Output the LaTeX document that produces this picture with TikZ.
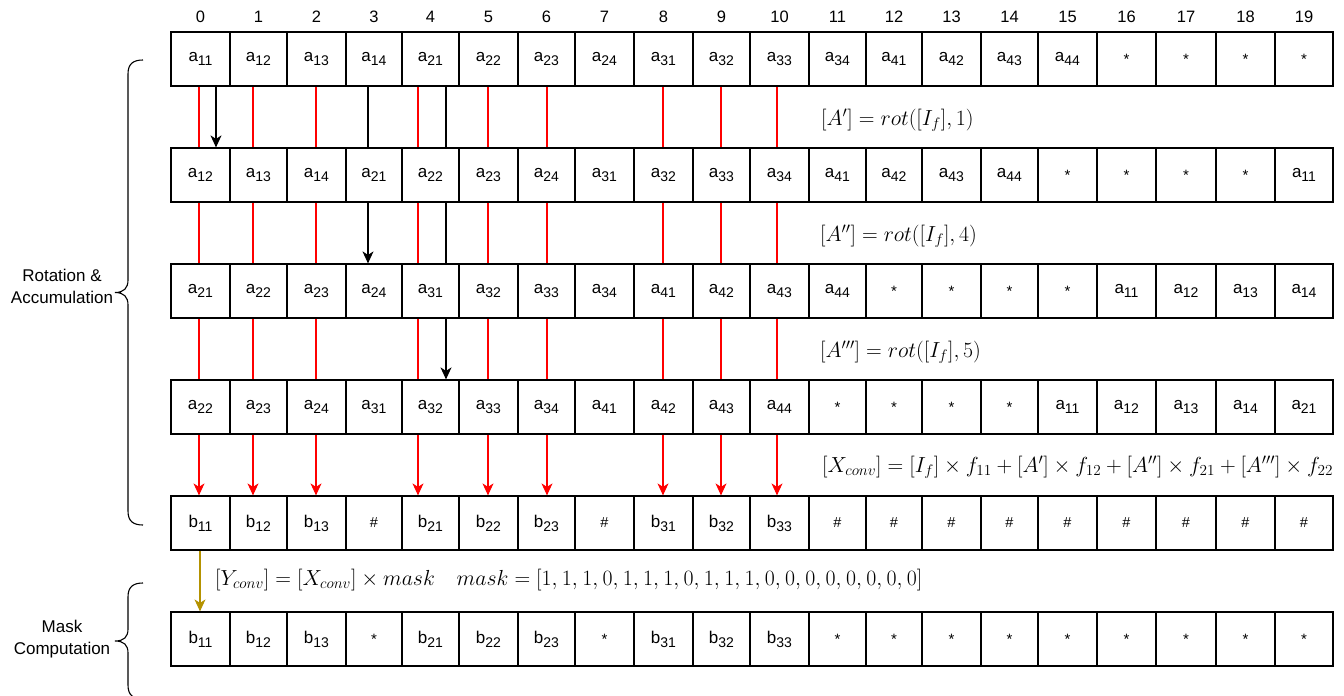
\RequirePackage{fix-cm}
\documentclass[tikz,border=0pt]{standalone}
\usepackage{fontspec}
\newfontfamily\arialf{Liberation Sans}
\usetikzlibrary{arrows.meta}
\definecolor{gold}{RGB}{180,146,0}
\pgfdeclarelayer{bgfill}
\pgfdeclarelayer{background}
\pgfsetlayers{bgfill,background,main}
\newcommand\A[1]{a\raisebox{-4pt}{\fontsize{14}{14}\selectfont #1}}
\newcommand\B[1]{b\raisebox{-4pt}{\fontsize{14}{14}\selectfont #1}}
\newcommand\Sx{\raisebox{-1pt}{\fontsize{15}{15}\selectfont *}}
\newcommand\Hx{{\fontsize{14.5}{14.5}\selectfont \#}}
\newcommand\cmm{,\mkern0.6mu}
\def\bnds{{171,230,287,346,402,459,518,575,634,693,750,809,866,922,981,1038,1097,1156,1216,1275,1333}}
\newcommand\rowcells[3]{%
  \foreach \t [count=\i from 0] in {#3}{%
    \pgfmathsetmacro\xl{\bnds[\i]}%
    \pgfmathsetmacro\xr{\bnds[\i+1]}%
    \pgfmathsetmacro\w{\xr-\xl}%
    \node[cell, minimum width=\w pt] (r#1c\i) at ({(\xl+\xr)/2},{#2+27}) {\t};}}
\begin{document}
\begin{tikzpicture}[x=1pt,y=-1pt,
  cell/.style={draw, line width=1.2pt, fill=white, minimum height=54pt, inner sep=0pt,
    font=\arialf\fontsize{17}{17}\selectfont},
  hdr/.style={font=\arialf\fontsize{16.5}{16.5}\selectfont, inner sep=0pt},
  redc/.style={draw=red, line width=1.1pt},
  blk/.style={draw=black, line width=1.4pt},
  tipa/.style={-{Stealth[length=12pt,width=11pt,inset=3.5pt]}},
  eq/.style={font=\fontsize{21.8}{21.8}\selectfont, anchor=west, inner sep=0pt},
  side/.style={font=\arialf\fontsize{17}{22}\selectfont, align=center, inner sep=0pt},
  bracel/.style={draw, line width=1.1pt}]
\clip (0,0) rectangle (1344,696);
\begin{pgfonlayer}{bgfill}
\fill[white] (0,0) rectangle (1344,696);
\end{pgfonlayer}

% header indices
\foreach \i in {0,...,19}{
  \pgfmathsetmacro\xl{\bnds[\i]}
  \pgfmathsetmacro\xr{\bnds[\i+1]}
  \node[hdr] (h\i) at ({(\xl+\xr)/2},17) {\i};
}

\rowcells{1}{32}{\A{11},\A{12},\A{13},\A{14},\A{21},\A{22},\A{23},\A{24},\A{31},\A{32},\A{33},\A{34},\A{41},\A{42},\A{43},\A{44},\Sx,\Sx,\Sx,\Sx}
\rowcells{2}{148}{\A{12},\A{13},\A{14},\A{21},\A{22},\A{23},\A{24},\A{31},\A{32},\A{33},\A{34},\A{41},\A{42},\A{43},\A{44},\Sx,\Sx,\Sx,\Sx,\A{11}}
\rowcells{3}{264}{\A{21},\A{22},\A{23},\A{24},\A{31},\A{32},\A{33},\A{34},\A{41},\A{42},\A{43},\A{44},\Sx,\Sx,\Sx,\Sx,\A{11},\A{12},\A{13},\A{14}}
\rowcells{4}{380}{\A{22},\A{23},\A{24},\A{31},\A{32},\A{33},\A{34},\A{41},\A{42},\A{43},\A{44},\Sx,\Sx,\Sx,\Sx,\A{11},\A{12},\A{13},\A{14},\A{21}}
\rowcells{5}{496}{\B{11},\B{12},\B{13},\Hx,\B{21},\B{22},\B{23},\Hx,\B{31},\B{32},\B{33},\Hx,\Hx,\Hx,\Hx,\Hx,\Hx,\Hx,\Hx,\Hx}
\rowcells{6}{612}{\B{11},\B{12},\B{13},\Sx,\B{21},\B{22},\B{23},\Sx,\B{31},\B{32},\B{33},\Sx,\Sx,\Sx,\Sx,\Sx,\Sx,\Sx,\Sx,\Sx}

% connectors behind the cells
\begin{pgfonlayer}{background}
\foreach \c/\dx in {0/-1.5,1/-5.5,2/-0.5,4/-12.5,5/-0.5,6/0.5,8/-0.5,9/-0.5,10/-2.5}
  \draw[redc,tipa] ([xshift=\dx pt]r1c\c.south) -- ([xshift=\dx pt]r5c\c.north);
\draw[blk,tipa] ([xshift=15.5pt]r1c0.south) -- ([xshift=15.5pt]r2c0.north);
\draw[blk,tipa] ([xshift=-6pt]r1c3.south) -- ([xshift=-6pt]r3c3.north);
\draw[blk,tipa] ([xshift=15.5pt]r1c4.south) -- ([xshift=15.5pt]r4c4.north);
\draw[draw=gold, line width=1.3pt, tipa] ([xshift=-0.5pt]r5c0.south) -- ([xshift=-0.5pt]r6c0.north);
\end{pgfonlayer}

% equations
\node[eq] (eqA) at (821,120) {$[A'] = rot([I_f], 1)$};
\node[eq] (eqB) at (820,236) {$[A''] = rot([I_f], 4)$};
\node[eq] (eqC) at (820,352) {$[A'''] = rot([I_f], 5)$};
\node[eq] (eqX) at (822,467) {$[X_{conv}] = [I_f] \times f_{11} + [A'] \times f_{12} + [A''] \times f_{21} + [A'''] \times f_{22}$};
\node[eq] (eqY) at (215,580) {$[Y_{conv}] = [X_{conv}] \times mask \quad mask = [1\cmm 1\cmm 1\cmm 0\cmm 1\cmm 1\cmm 1\cmm 0\cmm 1\cmm 1\cmm 1\cmm 0\cmm 0\cmm 0\cmm 0\cmm 0\cmm 0\cmm 0\cmm 0]$};

% side labels and braces
\node[side] (lrot) at (62,286) {Rotation \&\\Accumulation};
\node[side] (lmask) at (62,639) {Mask\\Computation};
\draw[bracel] (143,60) .. controls (133,60) and (128,64) .. (128,74) -- (128,280)
  .. controls (128,288) and (124,292.5) .. (115,292.5)
  .. controls (124,292.5) and (128,297) .. (128,305) -- (128,511)
  .. controls (128,521) and (133,525) .. (143,525);
\draw[bracel] (143,583) .. controls (133,583) and (128,587) .. (128,597) -- (128,629)
  .. controls (128,637) and (124,641) .. (115,641)
  .. controls (124,641) and (128,645) .. (128,653) -- (128,685)
  .. controls (128,695) and (133,699) .. (143,699);
\end{tikzpicture}
\end{document}
